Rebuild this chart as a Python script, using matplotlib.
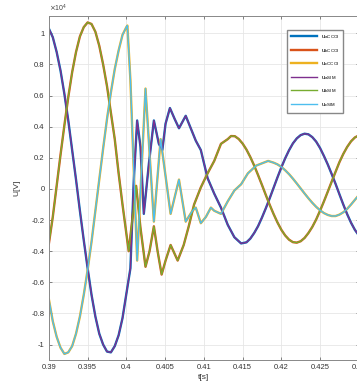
import matplotlib
matplotlib.use('Agg')
import matplotlib.pyplot as plt

plt.rcParams['font.family'] = ['Liberation Sans', 'DejaVu Sans']
plt.rcParams['axes.unicode_minus'] = False

# napięcia fazowe, jednostka 10^4 V (odczyt z wykresu)
t_a = [0.3900, 0.3905, 0.3910, 0.3915, 0.3920, 0.3925, 0.3930, 0.3935, 0.3940, 0.3945,
       0.3950, 0.3955, 0.3960, 0.3965, 0.3970, 0.3975, 0.3980, 0.3985, 0.3990, 0.3995,
       0.39985, 0.40052, 0.40095, 0.40139, 0.40182, 0.40225, 0.40290, 0.40355, 0.40419, 0.40464,
       0.40506, 0.40562, 0.40623, 0.40679, 0.40766, 0.40831, 0.40896, 0.40961, 0.41048, 0.41134,
       0.41221, 0.41308, 0.41394, 0.41481, 0.4155, 0.4160, 0.4165, 0.4170, 0.4175, 0.4180,
       0.4185, 0.4190, 0.4195, 0.4200, 0.4205, 0.4210, 0.4215, 0.4220, 0.4225, 0.4230,
       0.4235, 0.4240, 0.4245, 0.4250, 0.4255, 0.4260, 0.4265, 0.4270, 0.4275, 0.4280,
       0.4285, 0.4290, 0.4295, 0.4300]
u_a = [1.03, 0.975, 0.88, 0.76, 0.61, 0.44, 0.25, 0.06, -0.14, -0.33,
       -0.51, -0.68, -0.82, -0.93, -1.00, -1.045, -1.05, -1.01, -0.94, -0.83,
       -0.72, -0.51, 0.05, 0.44, 0.27, -0.16, 0.16, 0.44, 0.29, 0.25,
       0.42, 0.52, 0.45, 0.39, 0.47, 0.39, 0.31, 0.25, 0.07, -0.03,
       -0.12, -0.23, -0.31, -0.35, -0.343, -0.319, -0.283, -0.239, -0.184, -0.124,
       -0.06, 0.007, 0.074, 0.138, 0.197, 0.249, 0.293, 0.325, 0.346, 0.355,
       0.351, 0.333, 0.304, 0.263, 0.212, 0.157, 0.096, 0.033, -0.034, -0.10,
       -0.162, -0.217, -0.263, -0.298]

t_b = [0.3900, 0.3905, 0.3910, 0.3915, 0.3920, 0.3925, 0.3930, 0.3935, 0.3940, 0.3945,
       0.3950, 0.3955, 0.3960, 0.3965, 0.3970, 0.3975, 0.3980, 0.3985, 0.3990, 0.3995,
       0.4003, 0.40126, 0.40182, 0.40247, 0.40299, 0.40355, 0.40403, 0.40455, 0.40506, 0.40571,
       0.40662, 0.4074, 0.40805, 0.40874, 0.40961, 0.41048, 0.41134, 0.41221, 0.41308, 0.41351,
       0.4140, 0.4145, 0.4150, 0.4155, 0.4160, 0.4165, 0.4170, 0.4175, 0.4180, 0.4185,
       0.4190, 0.4195, 0.4200, 0.4205, 0.4210, 0.4215, 0.4220, 0.4225, 0.4230, 0.4235,
       0.4240, 0.4245, 0.4250, 0.4255, 0.4260, 0.4265, 0.4270, 0.4275, 0.4280, 0.4285,
       0.4290, 0.4295, 0.4300]
u_b = [-0.35, -0.18, 0.02, 0.22, 0.41, 0.59, 0.75, 0.88, 0.98, 1.04,
       1.07, 1.06, 1.01, 0.92, 0.80, 0.66, 0.49, 0.32, 0.10, -0.10,
       -0.40, 0.02, -0.25, -0.50, -0.40, -0.24, -0.40, -0.55, -0.46, -0.36,
       -0.46, -0.36, -0.24, -0.10, 0.01, 0.10, 0.18, 0.29, 0.32, 0.34,
       0.339, 0.321, 0.292, 0.253, 0.205, 0.15, 0.089, 0.026, -0.039, -0.102,
       -0.161, -0.215, -0.262, -0.299, -0.326, -0.342, -0.345, -0.336, -0.315, -0.283,
       -0.244, -0.196, -0.14, -0.08, -0.017, 0.047, 0.11, 0.172, 0.225, 0.27,
       0.306, 0.331, 0.344]

t_c = [0.3900, 0.3905, 0.3910, 0.3915, 0.3920, 0.3925, 0.3930, 0.3935, 0.3940, 0.3945,
       0.3950, 0.3955, 0.3960, 0.3965, 0.3970, 0.3975, 0.3980, 0.3985, 0.3990, 0.3995,
       0.4000, 0.40013, 0.40052, 0.40139, 0.40247, 0.40355, 0.40442, 0.40571, 0.40679, 0.40766,
       0.40853, 0.40896, 0.40961, 0.41026, 0.41091, 0.41134, 0.41221, 0.41308, 0.41394, 0.41481,
       0.41568, 0.41675, 0.4183, 0.4190, 0.4195, 0.4200, 0.4205, 0.4210, 0.4215, 0.4220,
       0.4225, 0.4230, 0.4235, 0.4240, 0.4245, 0.4250, 0.4255, 0.4260, 0.4265, 0.4270,
       0.4275, 0.4280, 0.4285, 0.4290, 0.4295, 0.4300]
u_c = [-0.71, -0.85, -0.95, -1.02, -1.06, -1.05, -1.01, -0.93, -0.82, -0.68,
       -0.52, -0.34, -0.14, 0.06, 0.26, 0.45, 0.62, 0.77, 0.89, 0.99,
       1.04, 1.05, 0.70, -0.46, 0.645, -0.21, 0.32, -0.16, 0.06, -0.21,
       -0.14, -0.12, -0.22, -0.18, -0.12, -0.14, -0.16, -0.08, -0.01, 0.03,
       0.10, 0.15, 0.18, 0.169, 0.158, 0.142, 0.12, 0.095, 0.066, 0.035,
       0.003, -0.029, -0.06, -0.089, -0.115, -0.137, -0.155, -0.167, -0.174, -0.174,
       -0.165, -0.15, -0.128, -0.10, -0.07, -0.04]

labels = ['$\\mathregular{u_{aCCOI}}$', '$\\mathregular{u_{bCCOI}}$', '$\\mathregular{u_{cCCOI}}$',
          '$\\mathregular{u_{aSIM}}$', '$\\mathregular{u_{bSIM}}$', '$\\mathregular{u_{cSIM}}$']
colors = ['#0072BD', '#D95319', '#EDB120', '#7E2F8E', '#77AC30', '#4DBEEE']

x_ticks = [0.39, 0.395, 0.4, 0.405, 0.41, 0.415, 0.42, 0.425, 0.43]
x_labels = ['0.39', '0.395', '0.4', '0.405', '0.41', '0.415', '0.42', '0.425', '0.43']
y_ticks = [-1, -0.8, -0.6, -0.4, -0.2, 0, 0.2, 0.4, 0.6, 0.8, 1]
y_labels = ['-1', '-0.8', '-0.6', '-0.4', '-0.2', '0', '0.2', '0.4', '0.6', '0.8', '1']

fig = plt.figure(figsize=(3.57, 3.86), dpi=100)
ax = fig.add_axes([0.137, 0.067, 0.868, 0.891])

data = [(t_a, u_a), (t_b, u_b), (t_c, u_c)]
for i in range(3):
    ax.plot(data[i][0], data[i][1], color=colors[i], lw=1.7, label=labels[i])
for i in range(3):
    ax.plot(data[i][0], data[i][1], color=colors[i + 3], lw=1.0, label=labels[i + 3])

ax.set_xlim(0.39, 0.43)
ax.set_ylim(-1.1, 1.11)
ax.set_xticks(x_ticks)
ax.set_xticklabels(x_labels)
ax.set_yticks(y_ticks)
ax.set_yticklabels(y_labels)
ax.tick_params(direction='in', top=True, right=True, labelsize=5.5, colors='#555555',
               length=2.5, width=0.5, labelcolor='#333333', pad=3)
ax.grid(True, color='#e6e6e6', lw=0.6)
ax.set_axisbelow(True)
for s in ax.spines.values():
    s.set_color('#888888')
    s.set_linewidth(0.7)

ax.set_xlabel('t[s]', fontsize=6, color='#333333', labelpad=2)
ax.set_ylabel('U[V]', fontsize=6, color='#333333', labelpad=8)
ax.text(0.0, 1.005, '$\\times\\mathregular{10^4}$', transform=ax.transAxes, fontsize=5,
        color='#444444', ha='left', va='bottom')

ax.legend(loc='upper right', bbox_to_anchor=(0.96, 0.97), fontsize=4.5, handlelength=4.2,
          labelspacing=0.9, frameon=True, fancybox=False, edgecolor='#888888',
          borderpad=0.6, handletextpad=0.6, framealpha=1)

fig.savefig('out.png', dpi=100)
